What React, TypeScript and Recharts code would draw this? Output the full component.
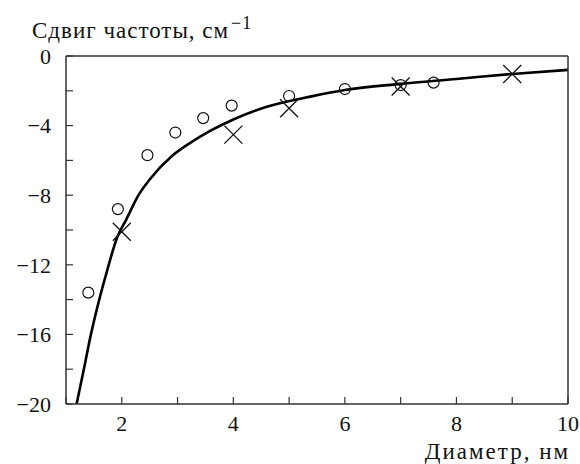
import React from 'react';
import { ComposedChart, Line, Scatter, XAxis, YAxis } from 'recharts';

// measured points (circles and crosses) and the fitted curve
const circleX = [1.4, 1.93, 2.46, 2.96, 3.46, 3.97, 5.0, 6.0, 7.0, 7.59];
const circleY = [-13.6, -8.8, -5.7, -4.4, -3.57, -2.85, -2.3, -1.9, -1.67, -1.53];
const crossX = [2.0, 4.0, 5.0, 7.0, 9.0];
const crossY = [-10.1, -4.52, -3.0, -1.75, -1.03];
const curveX = [1.19, 1.32, 1.44, 1.58, 1.74, 1.92, 2.08, 2.3, 2.5, 2.9, 3.2, 3.6, 4.0, 4.6, 5.4, 6, 7, 8, 9, 10];
const curveY = [-20, -18, -16.1, -14.2, -12.3, -10.4, -9.4, -8.0, -7.1, -5.75, -5.05, -4.28, -3.65, -2.92, -2.32, -1.95, -1.6, -1.32, -1.03, -0.8];

const xTicks = [1, 2, 3, 4, 5, 6, 7, 8, 9, 10];
const xLabels = [2, 4, 6, 8, 10];
const yTicks = [0, -2, -4, -6, -8, -10, -12, -14, -16, -18, -20];
const yLabels = [0, -4, -8, -12, -16, -20];

const circles = circleX.map((x, i) => ({ x, y: circleY[i] }));
const crosses = crossX.map((x, i) => ({ x, y: crossY[i] }));
const curve = curveX.map((x, i) => ({ x, y: curveY[i] }));

const font = 'Liberation Serif';
const frame = '#333';

const CircleMark = (p: any) => (
  <circle cx={p.cx} cy={p.cy} r={5.5} fill="none" stroke="#111" strokeWidth={1.2} />
);

const CrossMark = (p: any) => {
  const d = 9;
  return (
    <g stroke="#111" strokeWidth={1.3}>
      <line x1={p.cx - d} y1={p.cy - d} x2={p.cx + d} y2={p.cy + d} />
      <line x1={p.cx - d} y1={p.cy + d} x2={p.cx + d} y2={p.cy - d} />
    </g>
  );
};

const fmtX = (v: number) => (xLabels.includes(v) ? String(v) : '');
const fmtY = (v: number) => (yLabels.includes(v) ? (v < 0 ? '\u2212' + Math.abs(v) : String(v)) : '');

export default function App() {
  const tickStyle = { fill: '#111', fontSize: 22, fontFamily: font };
  return (
    <div style={{ position: 'absolute', left: 0, top: 0, width: 580, height: 464, background: '#fff' }}>
      <ComposedChart
        width={580}
        height={464}
        margin={{ top: 36, right: 2, bottom: 20, left: 10 }}
      >
        <XAxis
          xAxisId="b"
          dataKey="x"
          type="number"
          domain={[1, 10]}
          ticks={xTicks}
          tickFormatter={fmtX}
          height={40}
          tickSize={-7}
          tickMargin={18}
          tick={tickStyle}
          axisLine={{ stroke: frame, strokeWidth: 1.5 }}
          tickLine={{ stroke: frame, strokeWidth: 1.2 }}
          allowDataOverflow
        />
        <XAxis
          xAxisId="t"
          orientation="top"
          dataKey="x"
          type="number"
          domain={[1, 10]}
          ticks={xTicks}
          tick={false}
          height={20}
          tickSize={-7}
          axisLine={{ stroke: frame, strokeWidth: 1.5 }}
          tickLine={{ stroke: frame, strokeWidth: 1.2 }}
          allowDataOverflow
        />
        <YAxis
          yAxisId="l"
          dataKey="y"
          type="number"
          domain={[-20, 0]}
          ticks={yTicks}
          tickFormatter={fmtY}
          width={56}
          tickSize={-7}
          tickMargin={22}
          tick={tickStyle}
          axisLine={{ stroke: frame, strokeWidth: 1.5 }}
          tickLine={{ stroke: frame, strokeWidth: 1.2 }}
          allowDataOverflow
        />
        <YAxis
          yAxisId="r"
          orientation="right"
          dataKey="y"
          type="number"
          domain={[-20, 0]}
          ticks={yTicks}
          tick={false}
          width={10}
          tickSize={-7}
          axisLine={{ stroke: frame, strokeWidth: 1.5 }}
          tickLine={{ stroke: frame, strokeWidth: 1.2 }}
          allowDataOverflow
        />
        <Line
          xAxisId="b"
          yAxisId="l"
          data={curve}
          dataKey="y"
          type="monotone"
          stroke="#000"
          strokeWidth={2.6}
          dot={false}
          activeDot={false}
          isAnimationActive={false}
        />
        <Scatter xAxisId="b" yAxisId="l" data={circles} dataKey="y" shape={CircleMark} isAnimationActive={false} />
        <Scatter xAxisId="b" yAxisId="l" data={crosses} dataKey="y" shape={CrossMark} isAnimationActive={false} />
      </ComposedChart>
      <div style={{ position: 'absolute', left: 32, top: 11, fontFamily: font, fontSize: 23, letterSpacing: 1, lineHeight: '24px', color: '#111', whiteSpace: 'nowrap' }}>
        Сдвиг частоты, см<sup style={{ fontSize: 18, letterSpacing: 1, marginLeft: 2 }}>−1</sup>
      </div>
      <div style={{ position: 'absolute', right: 10, top: 440, fontFamily: font, fontSize: 23, letterSpacing: 2, lineHeight: '24px', color: '#111', whiteSpace: 'nowrap' }}>
        Диаметр, нм
      </div>
    </div>
  );
}
